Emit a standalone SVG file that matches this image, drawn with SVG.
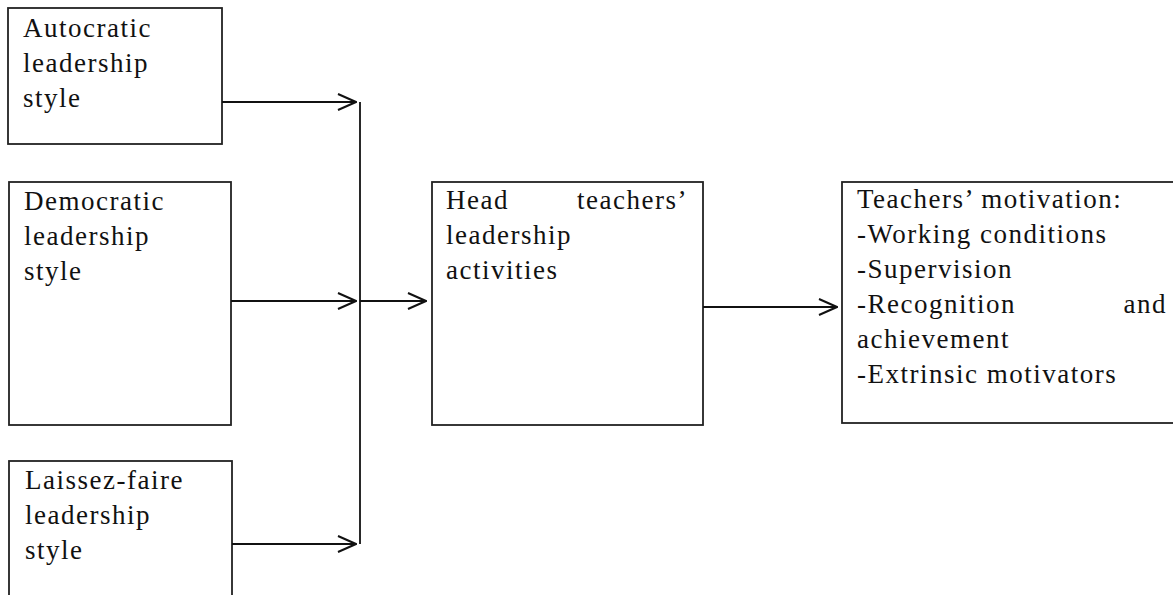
<svg xmlns="http://www.w3.org/2000/svg" width="1173" height="595" viewBox="0 0 1173 595">
<style>
.box{fill:#fff;stroke:#222;stroke-width:1.8}
.t{font-family:"Liberation Serif","Times New Roman",serif;font-size:27px;letter-spacing:1.5px;fill:#111}
.c{stroke:#111;stroke-width:1.8;fill:none}
</style>
<defs>
<marker id="arr" viewBox="0 0 20 18" refX="19" refY="9" markerWidth="20" markerHeight="18" markerUnits="userSpaceOnUse" orient="auto">
<path d="M1,1 L19,9 L1,17" fill="none" stroke="#111" stroke-width="2"/>
</marker>
</defs>
<rect width="1173" height="595" fill="#fff"/>
<g id="autocratic">
<rect class="box" x="8" y="8" width="214" height="136"/>
<text class="t" x="23" y="37">Autocratic</text>
<text class="t" x="23" y="72">leadership</text>
<text class="t" x="23" y="107">style</text>
</g>
<g id="democratic">
<rect class="box" x="9" y="182" width="222" height="243"/>
<text class="t" x="24" y="210">Democratic</text>
<text class="t" x="24" y="245">leadership</text>
<text class="t" x="24" y="280">style</text>
</g>
<g id="laissez">
<rect class="box" x="9" y="461" width="223" height="160"/>
<text class="t" x="25" y="489">Laissez-faire</text>
<text class="t" x="25" y="524">leadership</text>
<text class="t" x="25" y="559">style</text>
</g>
<g id="head">
<rect class="box" x="432" y="182" width="271" height="243"/>
<text class="t" x="446" y="209">Head</text>
<text class="t" x="688" y="209" text-anchor="end">teachers’</text>
<text class="t" x="446" y="244">leadership</text>
<text class="t" x="446" y="279">activities</text>
</g>
<g id="motivation">
<rect class="box" x="842" y="182" width="345" height="241"/>
<text class="t" x="857" y="208">Teachers’ motivation:</text>
<text class="t" x="857" y="243">-Working conditions</text>
<text class="t" x="857" y="278">-Supervision</text>
<text class="t" x="857" y="313">-Recognition</text>
<text class="t" x="1167" y="313" text-anchor="end">and</text>
<text class="t" x="857" y="348">achievement</text>
<text class="t" x="857" y="383">-Extrinsic motivators</text>
</g>
<g id="connectors">
<line class="c" x1="360" y1="102" x2="360" y2="544"/>
<line class="c" x1="222" y1="102" x2="356" y2="102" marker-end="url(#arr)"/>
<line class="c" x1="231" y1="301" x2="356" y2="301" marker-end="url(#arr)"/>
<line class="c" x1="232" y1="544" x2="356" y2="544" marker-end="url(#arr)"/>
<line class="c" x1="360" y1="301" x2="426" y2="301" marker-end="url(#arr)"/>
<line class="c" x1="703" y1="307" x2="837" y2="307" marker-end="url(#arr)"/>
</g>
</svg>
